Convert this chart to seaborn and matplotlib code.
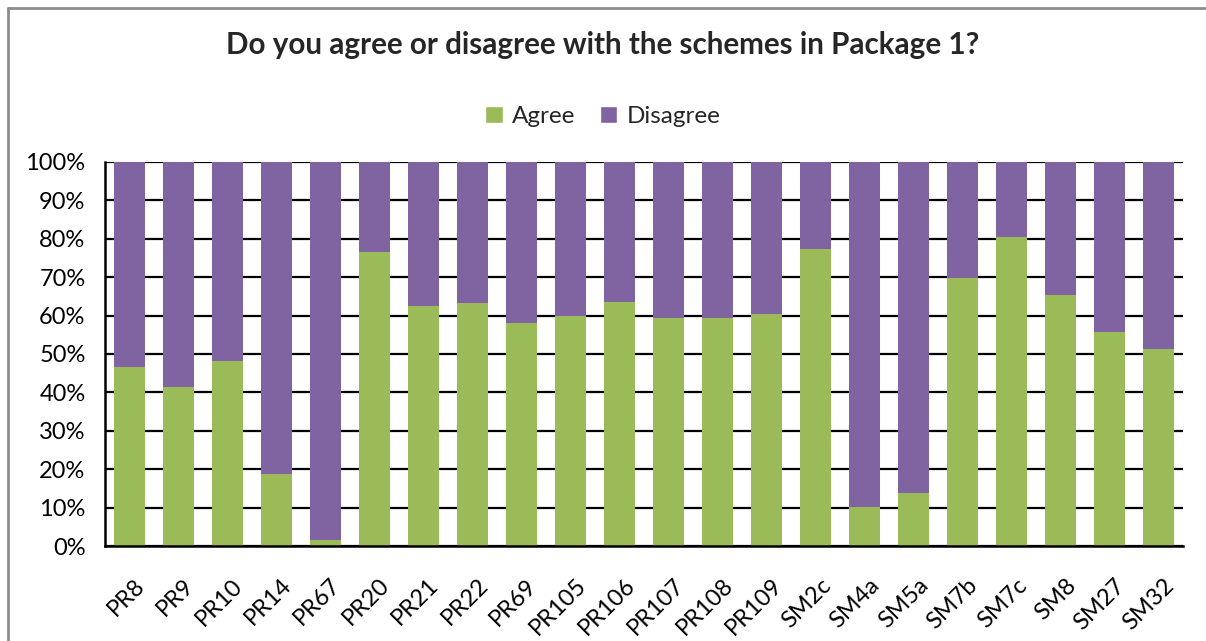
import matplotlib
matplotlib.use("Agg")
import matplotlib.pyplot as plt
import matplotlib.transforms as mtransforms
from matplotlib.patches import Patch
from matplotlib.lines import Line2D
import seaborn as sns
import pandas as pd

schemes = ["PR8", "PR9", "PR10", "PR14", "PR67", "PR20", "PR21", "PR22", "PR69",
           "PR105", "PR106", "PR107", "PR108", "PR109", "SM2c", "SM4a", "SM5a",
           "SM7b", "SM7c", "SM8", "SM27", "SM32"]
agree = [46.6, 41.4, 48.2, 18.8, 1.6, 76.6, 62.5, 63.3, 58.1, 59.9, 63.5,
         59.4, 59.4, 60.4, 77.3, 10.2, 13.8, 69.8, 80.5, 65.4, 55.7, 51.3]
disagree = [100 - a for a in agree]
y_ticks = [0, 10, 20, 30, 40, 50, 60, 70, 80, 90, 100]

GREEN = "#9BBB59"
PURPLE = "#8064A2"

sns.set_theme(style="white")
plt.rcParams["font.family"] = ["Lato", "DejaVu Sans"]

df = pd.DataFrame({"scheme": schemes, "Agree": agree, "Disagree": disagree})
df["top"] = df["Agree"] + df["Disagree"]

fig = plt.figure(figsize=(12.06, 6.41), dpi=100)
ax = fig.add_axes([0.0871, 0.1482, 0.8938, 0.5991])

# stacked bars: full column in purple, agree share on top of it in green
sns.barplot(data=df, x="scheme", y="top", color=PURPLE, width=0.65,
            saturation=1, linewidth=0, ax=ax, zorder=3)
sns.barplot(data=df, x="scheme", y="Agree", color=GREEN, width=0.65,
            saturation=1, linewidth=0, ax=ax, zorder=4)

ax.set_ylim(0, 100)
ax.set_xlim(-0.5, len(schemes) - 0.5)
ax.set_yticks(y_ticks)
ax.set_yticklabels([f"{t}%" for t in y_ticks], fontsize=17, color="black")
ax.set_xticks(range(len(schemes)))
ax.set_xticklabels(schemes, rotation=45, ha="right", va="center",
                   rotation_mode="anchor", fontsize=17, color="black")
ax.set_xlabel("")
ax.set_ylabel("")
ax.tick_params(axis="y", length=0, pad=14)
ax.tick_params(axis="x", length=0, pad=26)

# nudge the slanted category labels to the right of their columns
shift = mtransforms.ScaledTranslation(12 / 100, 0, fig.dpi_scale_trans)
for lbl in ax.get_xticklabels():
    lbl.set_transform(lbl.get_transform() + shift)

ax.yaxis.grid(True, color="black", linewidth=1.6, zorder=0)
ax.set_axisbelow(True)
for side in ["top", "right"]:
    ax.spines[side].set_visible(False)
for side in ["left", "bottom"]:
    ax.spines[side].set_color("black")
    ax.spines[side].set_linewidth(1.8)
    ax.spines[side].set_zorder(5)

fig.text(0.5, 0.930, "Do you agree or disagree with the schemes in Package 1?",
         ha="center", va="center", fontsize=21.3, fontweight="bold")

handles = [Patch(facecolor=GREEN, label="Agree"),
           Patch(facecolor=PURPLE, label="Disagree")]
fig.legend(handles=handles, loc="center", bbox_to_anchor=(0.5, 0.8175),
           ncol=2, frameon=False, fontsize=17.5, handlelength=0.7,
           handleheight=0.7, handletextpad=0.4, columnspacing=1.0)

# chart frame (left and top edges)
fig.add_artist(Line2D([0.0066, 0.0066], [0, 0.9875], transform=fig.transFigure,
                      color="#8c8c8c", linewidth=2))
fig.add_artist(Line2D([0.0066, 1.0], [0.9875, 0.9875], transform=fig.transFigure,
                      color="#8c8c8c", linewidth=2))

fig.savefig("out.png", dpi=100)
